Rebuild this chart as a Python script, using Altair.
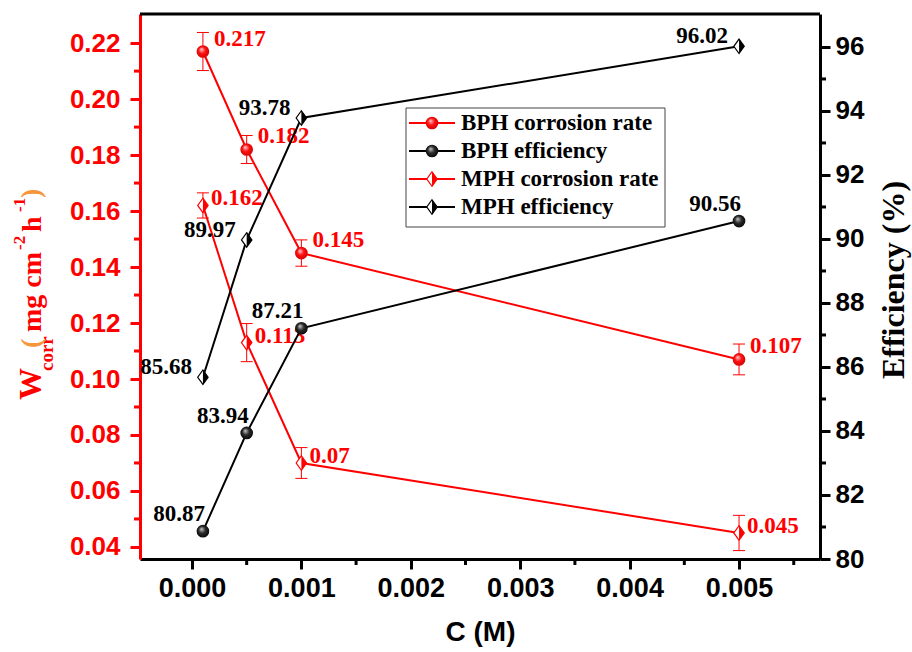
import altair as alt
import pandas as pd

# ---------------- data ----------------
conc = [0.0001, 0.0005, 0.001, 0.005]
bph_rate = [0.217, 0.182, 0.145, 0.107]
bph_rate_err = [0.0068, 0.0050, 0.0047, 0.0055]
mph_rate = [0.162, 0.113, 0.070, 0.045]
mph_rate_err = [0.0045, 0.0068, 0.0055, 0.0063]
bph_eff = [80.87, 83.94, 87.21, 90.56]
mph_eff = [85.68, 89.97, 93.78, 96.02]

x_ticks = [0.000, 0.001, 0.002, 0.003, 0.004, 0.005]
x_minor = [0.0005, 0.0015, 0.0025, 0.0035, 0.0045, 0.0055]
left_ticks = [0.04, 0.06, 0.08, 0.10, 0.12, 0.14, 0.16, 0.18, 0.20, 0.22]
left_minor = [0.05, 0.07, 0.09, 0.11, 0.13, 0.15, 0.17, 0.19, 0.21]
right_ticks = [80, 82, 84, 86, 88, 90, 92, 94, 96]
right_minor = [81, 83, 85, 87, 89, 91, 93, 95]

legend_labels = ["BPH corrosion rate", "BPH efficiency", "MPH corrosion rate", "MPH efficiency"]
legend_colors = ["#ff0000", "#000000", "#ff0000", "#000000"]
title_parts = ["W", "corr", "(", "mg cm", "-2", "h", "-1", ")"]

# ---------------- styles ----------------
RED = "#ff0000"
ORANGE = "#f7963a"
SANS = "Liberation Sans"
SERIF = "Liberation Serif"
W, H = 680, 545

rate_df = pd.DataFrame({
    "c": conc * 2,
    "rate": bph_rate + mph_rate,
    "err": bph_rate_err + mph_rate_err,
    "series": ["BPH"] * 4 + ["MPH"] * 4,
})
rate_df["lo"] = rate_df["rate"] - rate_df["err"]
rate_df["hi"] = rate_df["rate"] + rate_df["err"]
rate_df["label"] = [str(v) for v in rate_df["rate"]]

eff_df = pd.DataFrame({
    "c": conc * 2,
    "eff": bph_eff + mph_eff,
    "series": ["BPH"] * 4 + ["MPH"] * 4,
})
eff_df["label"] = [f"{v:.2f}" for v in eff_df["eff"]]

xminor_df = pd.DataFrame({"c": x_minor})
lminor_df = pd.DataFrame({"rate": left_minor})
rminor_df = pd.DataFrame({"eff": right_minor})
legend_df = pd.DataFrame({"label": legend_labels, "col": legend_colors, "row": list(range(4))})
one = pd.DataFrame({"a": [0]})

xscale = alt.Scale(domain=[-0.000475, 0.00574], nice=False, zero=False)
xaxis = alt.Axis(values=x_ticks, format=".3f", title="C (M)", titleFont=SANS, titleFontSize=28,
                 titleFontWeight="bold", titleColor="black", titlePadding=17,
                 labelFont=SANS, labelFontSize=27, labelFontWeight="bold", labelColor="black",
                 labelPadding=6, tickColor="black", tickWidth=3, tickSize=10,
                 domainColor="black", domainWidth=3, grid=False, labelFlush=False)
lscale = alt.Scale(domain=[0.0357, 0.2304], nice=False, zero=False)
laxis = alt.Axis(orient="left", values=left_ticks, format=".2f", title=None,
                 labelFont=SANS, labelFontSize=26, labelFontWeight="bold", labelColor=RED,
                 labelPadding=10, tickColor=RED, tickWidth=3, tickSize=10,
                 domainColor=RED, domainWidth=3, grid=False)
rscale = alt.Scale(domain=[80, 97.03], nice=False, zero=False)
raxis = alt.Axis(orient="right", values=right_ticks, format="d", title=None,
                 labelFont=SANS, labelFontSize=26, labelFontWeight="bold", labelColor="black",
                 labelPadding=5, tickColor="black", tickWidth=3, tickSize=10,
                 domainColor="black", domainWidth=3, grid=False)


def X(f):
    return alt.X(f"{f}:Q", scale=xscale, axis=xaxis)


def YL(f):
    return alt.Y(f"{f}:Q", scale=lscale, axis=laxis)


def YR(f):
    return alt.Y(f"{f}:Q", scale=rscale, axis=raxis)


def grad(c0, c1, c2):
    return alt.Gradient(gradient="radial",
                        stops=[alt.GradientStop(color=c0, offset=0),
                               alt.GradientStop(color=c1, offset=0.45),
                               alt.GradientStop(color=c2, offset=1)],
                        x1=0.38, y1=0.32, r1=0.0, x2=0.5, y2=0.5, r2=0.6)


RED_GRAD = grad("#ffd6d6", "#ff1010", "#c80000")
BLK_GRAD = grad("#d0d0d0", "#2a2a2a", "#000000")
DIAMOND = "M0,-1L0.72,0L0,1L-0.72,0Z"
HALF = "M0,-1L0.72,0L0,1Z"


def circle_mark(color_grad):
    return dict(shape="circle", filled=True, fill=color_grad, strokeWidth=0, size=160, opacity=1)


def dia_base(col):
    return dict(shape=DIAMOND, filled=True, fill="white", stroke=col, strokeWidth=1.2, size=210, opacity=1)


def dia_half(col):
    return dict(shape=HALF, filled=True, fill=col, strokeWidth=0, size=210, opacity=1)


def label_mark(col, align, dx, dy):
    return dict(font=SERIF, fontWeight="bold", fontSize=23, color=col, align=align,
                baseline="middle", dx=dx, dy=dy)


# ---------------- left (corrosion rate) ----------------
rb = alt.Chart(rate_df)
bph_r = rb.transform_filter("datum.series == 'BPH'")
mph_r = rb.transform_filter("datum.series == 'MPH'")
left = alt.layer(
    rb.mark_line(color=RED, strokeWidth=2).encode(x=X("c"), y=YL("rate"), detail="series:N"),
    rb.mark_rule(color=RED, strokeWidth=1).encode(x=X("c"), y=YL("lo"), y2="hi:Q"),
    rb.mark_rule(color=RED, strokeWidth=1, xOffset=-6, x2Offset=6).encode(x=X("c"), x2="c:Q", y=YL("hi")),
    rb.mark_rule(color=RED, strokeWidth=1, xOffset=-6, x2Offset=6).encode(x=X("c"), x2="c:Q", y=YL("lo")),
    bph_r.mark_point(**circle_mark(RED_GRAD)).encode(x=X("c"), y=YL("rate")),
    mph_r.mark_point(**dia_base(RED)).encode(x=X("c"), y=YL("rate")),
    mph_r.mark_point(**dia_half(RED)).encode(x=X("c"), y=YL("rate")),
    bph_r.mark_text(**label_mark(RED, "left", 11, -13)).encode(x=X("c"), y=YL("rate"), text="label:N"),
    mph_r.mark_text(**label_mark(RED, "left", 8, -7)).encode(x=X("c"), y=YL("rate"), text="label:N"),
    alt.Chart(lminor_df).mark_rule(color=RED, strokeWidth=3).encode(
        y=YL("rate"), x=alt.value(-6), x2=alt.value(0)),
    alt.Chart(xminor_df).mark_rule(color="black", strokeWidth=3).encode(
        x=X("c"), y=alt.value(H), y2=alt.value(H + 6)),
)

# ---------------- right (efficiency) ----------------
eb = alt.Chart(eff_df)
bph_e = eb.transform_filter("datum.series == 'BPH'")
mph_e = eb.transform_filter("datum.series == 'MPH'")
right = alt.layer(
    eb.mark_line(color="black", strokeWidth=2).encode(x=X("c"), y=YR("eff"), detail="series:N"),
    bph_e.mark_point(**circle_mark(BLK_GRAD)).encode(x=X("c"), y=YR("eff")),
    mph_e.mark_point(**dia_base("black")).encode(x=X("c"), y=YR("eff")),
    mph_e.mark_point(**dia_half("black")).encode(x=X("c"), y=YR("eff")),
    bph_e.mark_text(**label_mark("black", "right", 2, -17)).encode(x=X("c"), y=YR("eff"), text="label:N"),
    mph_e.mark_text(**label_mark("black", "right", -11, -10)).encode(x=X("c"), y=YR("eff"), text="label:N"),
    alt.Chart(rminor_df).mark_rule(color="black", strokeWidth=3).encode(
        y=YR("eff"), x=alt.value(W), x2=alt.value(W + 6)),
)

# ---------------- legend, frame, titles ----------------
lg = alt.Chart(legend_df).transform_calculate(ly="109 + 28 * datum.row")
LY = alt.Y("ly:Q", scale=None, axis=None)
LX = 292
legend = alt.layer(
    alt.Chart(one).mark_rect(fill="white", stroke="#444444", strokeWidth=1).encode(
        x=alt.value(266), x2=alt.value(525), y=alt.value(94), y2=alt.value(213)),
    lg.mark_rule(strokeWidth=2).encode(x=alt.value(269), x2=alt.value(315), y=LY,
                                        color=alt.Color("col:N", scale=None)),
    lg.transform_filter("datum.row == 0").mark_point(**circle_mark(RED_GRAD)).encode(x=alt.value(LX), y=LY),
    lg.transform_filter("datum.row == 1").mark_point(**circle_mark(BLK_GRAD)).encode(x=alt.value(LX), y=LY),
    lg.transform_filter("datum.row == 2").mark_point(**dia_base(RED)).encode(x=alt.value(LX), y=LY),
    lg.transform_filter("datum.row == 2").mark_point(**dia_half(RED)).encode(x=alt.value(LX), y=LY),
    lg.transform_filter("datum.row == 3").mark_point(**dia_base("black")).encode(x=alt.value(LX), y=LY),
    lg.transform_filter("datum.row == 3").mark_point(**dia_half("black")).encode(x=alt.value(LX), y=LY),
    lg.mark_text(font=SERIF, fontWeight="bold", fontSize=23, color="black", align="left",
                 baseline="middle").encode(x=alt.value(321), y=LY, text="label:N"),
    # top frame line
    alt.Chart(one).mark_rule(color="black", strokeWidth=3).encode(
        x=alt.value(0), x2=alt.value(W), y=alt.value(0)),
    # right axis title
    alt.Chart(pd.DataFrame({"t": ["Efficiency (%)"]})).mark_text(
        font=SERIF, fontWeight="bold", fontSize=32, color="black", angle=270,
        align="center", baseline="middle").encode(x=alt.value(754), y=alt.value(266), text="t:N"),
)

# left axis title pieces: (x, y-start, size, colour)
part_style = [(-109, 386, 32, RED), (-93, 357, 19, RED), (-108, 334, 28, ORANGE),
              (-107, 318, 28, RED), (-120, 236, 17, RED), (-107, 218, 28, RED),
              (-120, 198, 17, RED), (-108, 184, 28, ORANGE)]
title_layers = []
for txt, (px, py, fs, col) in zip(title_parts, part_style):
    title_layers.append(
        alt.Chart(pd.DataFrame({"t": [txt]})).mark_text(
            font=SERIF, fontWeight="bold", fontSize=fs, color=col, angle=270,
            align="left", baseline="middle").encode(x=alt.value(px), y=alt.value(py), text="t:N"))

chart = alt.layer(left, right, alt.layer(legend, *title_layers)).resolve_scale(
    y="independent"
).properties(
    width=W, height=H,
    autosize=alt.AutoSizeParams(type="none"),
    padding={"left": 140, "top": 14, "right": 92, "bottom": 93},
    background="white",
).configure_view(stroke=None)

chart.save("out.html", embed_options={"renderer": "svg", "actions": False})
